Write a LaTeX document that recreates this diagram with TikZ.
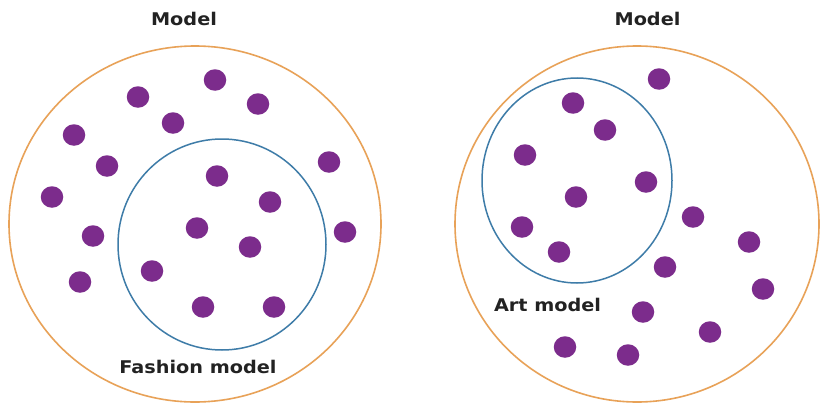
\documentclass[tikz,border=0pt]{standalone}
\usepackage{fontspec}
\usetikzlibrary{shapes.geometric}
\newfontfamily\lblfont{DejaVu Sans}[FakeStretch=1.1]
\definecolor{ringorange}{RGB}{232,162,88}
\definecolor{ringblue}{RGB}{62,124,168}
\definecolor{dotpurple}{RGB}{124,44,140}
\definecolor{txtgray}{RGB}{34,34,34}
\begin{document}
\begin{tikzpicture}[x=1pt,y=-1pt,
  outerring/.style={draw=ringorange,line width=1.6pt,ellipse,inner sep=0pt},
  innerring/.style={draw=ringblue,line width=1.5pt,ellipse,inner sep=0pt},
  dot/.style={fill=dotpurple,ellipse,minimum width=22.5pt,minimum height=21.5pt,inner sep=0pt},
  lbl/.style={text=txtgray,font=\lblfont\bfseries\fontsize{17.5}{20}\selectfont,anchor=base,inner sep=0pt}]
\useasboundingbox (0,0) rectangle (821,404);
\fill[white] (0,0) rectangle (821,404);
% left panel
\node[outerring,minimum width=372pt,minimum height=356pt] (outerL) at (195,224) {};
\node[innerring,minimum width=208pt,minimum height=211pt] (innerL) at (222,244.5) {};
\node[lbl] (modelL) at (184,26) {Model};
\node[lbl] (fashion) at (198,373) {Fashion model};
\foreach \n/\p in {1/{(215,80)},2/{(138,97)},3/{(258,104)},4/{(173,123)},5/{(74,135)},
  6/{(107,166)},7/{(329,162)},8/{(217,176)},9/{(52,197)},10/{(270,202)},
  11/{(197,228)},12/{(93,236)},13/{(345,232)},14/{(250,247)},15/{(152,271)},
  16/{(80,282)},17/{(203,307)},18/{(274,307)}}
  \node[dot] (l\n) at \p {};
% right panel
\node[outerring,minimum width=364pt,minimum height=356pt] (outerR) at (637,224) {};
\node[innerring,minimum width=190pt,minimum height=205pt] (innerR) at (577,180.5) {};
\node[lbl] (modelR) at (647.5,26) {Model};
\node[lbl] (art) at (547.5,311.5) {Art model};
\foreach \n/\p in {1/{(659,79)},2/{(573,103)},3/{(605,130)},4/{(525,155)},5/{(646,182)},
  6/{(576,197)},7/{(693,217)},8/{(522,227)},9/{(749,242)},10/{(559,252)},
  11/{(665,267)},12/{(763,289)},13/{(643,312)},14/{(710,332)},15/{(565,347)},
  16/{(628,355)}}
  \node[dot] (r\n) at \p {};
\end{tikzpicture}
\end{document}
